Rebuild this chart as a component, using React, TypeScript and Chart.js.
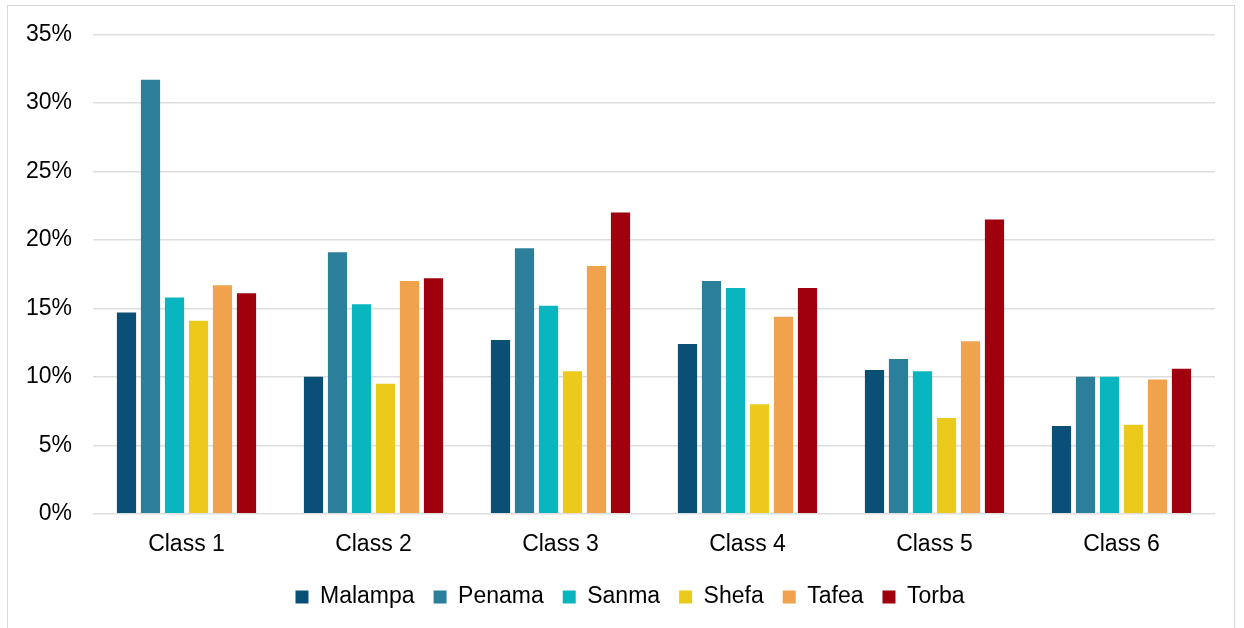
import React, { useEffect, useRef } from "react";
import { Chart, registerables } from "chart.js";

Chart.register(...registerables);

// Share of pupils per class, by province (percent)
const classes = ["Class 1", "Class 2", "Class 3", "Class 4", "Class 5", "Class 6"];
const malampa = [14.7, 10.0, 12.7, 12.4, 10.5, 6.4];
const penama = [31.7, 19.1, 19.4, 17.0, 11.3, 10.0];
const sanma = [15.8, 15.3, 15.2, 16.5, 10.4, 10.0];
const shefa = [14.1, 9.5, 10.4, 8.0, 7.0, 6.5];
const tafea = [16.7, 17.0, 18.1, 14.4, 12.6, 9.8];
const torba = [16.1, 17.2, 22.0, 16.5, 21.5, 10.6];
const yTicks = [0, 5, 10, 15, 20, 25, 30, 35];

const FONT = "'Liberation Sans', Arial, sans-serif";

// Nudges the legend row so it sits under the middle of the whole frame
const legendShift = {
  id: "legendShift",
  afterLayout(chart: any) {
    const lg = chart.legend;
    if (!lg) return;
    lg.left += 18.5;
    lg.right += 18.5;
    if (lg.adjustHitBoxes) lg.adjustHitBoxes();
  },
};

export default function App() {
  const canvasRef = useRef<HTMLCanvasElement | null>(null);

  useEffect(() => {
    const canvas = canvasRef.current;
    if (!canvas) return;
    const series = [
      { label: "Malampa", data: malampa, color: "#0a5076" },
      { label: "Penama", data: penama, color: "#2b7f9b" },
      { label: "Sanma", data: sanma, color: "#09b6bf" },
      { label: "Shefa", data: shefa, color: "#ecca1b" },
      { label: "Tafea", data: tafea, color: "#f0a34c" },
      { label: "Torba", data: torba, color: "#a0000d" },
    ];
    const chart = new Chart(canvas, {
      type: "bar",
      data: {
        labels: classes,
        datasets: series.map((s) => ({
          label: s.label,
          data: s.data,
          backgroundColor: s.color,
          borderWidth: 0,
          categoryPercentage: 0.77,
          barPercentage: 0.8,
        })),
      },
      plugins: [legendShift],
      options: {
        animation: false,
        responsive: false,
        devicePixelRatio: 1,
        layout: { padding: { left: 0, right: 19, top: 28.7, bottom: 9.5 } },
        plugins: {
          tooltip: { enabled: false },
          legend: {
            position: "bottom",
            labels: {
              boxWidth: 13,
              boxHeight: 13,
              padding: 19,
              color: "#000",
              font: { family: FONT, size: 23 },
            },
          },
        },
        scales: {
          x: {
            grid: { display: false },
            border: { display: false },
            ticks: {
              color: "#000",
              padding: 9,
              font: { family: FONT, size: 23 },
            },
            afterFit: (scale: any) => {
              scale.height = 52.8;
            },
          },
          y: {
            min: 0,
            max: 35,
            afterBuildTicks: (scale: any) => {
              scale.ticks = yTicks.map((v) => ({ value: v }));
            },
            grid: {
              color: "#dedede",
              lineWidth: 1.5,
              drawTicks: true,
              tickLength: 18,
              tickColor: "rgba(0,0,0,0)",
            },
            border: { display: false },
            ticks: {
              color: "#000",
              padding: 3,
              font: { family: FONT, size: 23 },
              callback: (v: any) => `${v}%`,
            },
            afterFit: (scale: any) => {
              scale.width = 85;
            },
          },
        },
      },
    });
    return () => chart.destroy();
  }, []);

  return (
    <div
      style={{
        position: "fixed",
        left: 7,
        top: 5,
        width: 1228,
        height: 623,
        boxSizing: "border-box",
        border: "1px solid #d9d9d9",
        borderBottom: "none",
        background: "#fff",
      }}
    >
      <canvas ref={canvasRef} width={1226} height={622} style={{ display: "block" }} />
    </div>
  );
}
